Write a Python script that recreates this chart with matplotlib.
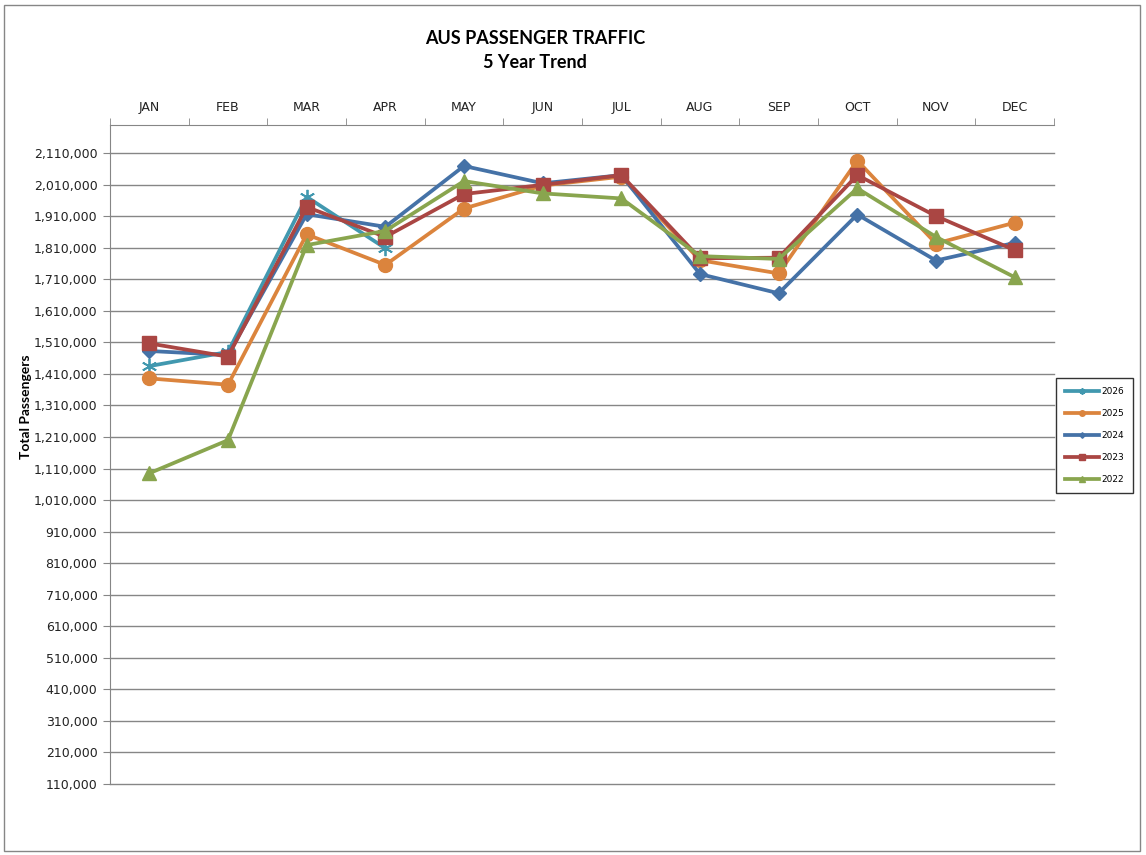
import numpy as np
import matplotlib
matplotlib.use('Agg')
import matplotlib.pyplot as plt
from matplotlib.patches import Rectangle
from matplotlib.ticker import FuncFormatter

# monthly passenger totals
months = ['JAN', 'FEB', 'MAR', 'APR', 'MAY', 'JUN', 'JUL', 'AUG', 'SEP', 'OCT', 'NOV', 'DEC']
y2026 = [1435000, 1480000, 1972000, 1809000]
y2025 = [1396000, 1376000, 1853000, 1756000, 1935000, 2008000, 2036000, 1771000, 1729000, 2087000, 1824000, 1890000]
y2024 = [1483000, 1470000, 1917000, 1877000, 2070000, 2015000, 2041000, 1727000, 1666000, 1916000, 1770000, 1826000]
y2023 = [1507000, 1465000, 1940000, 1845000, 1981000, 2010000, 2041000, 1777000, 1779000, 2041000, 1911000, 1803000]
y2022 = [1095000, 1200000, 1819000, 1864000, 2022000, 1983000, 1967000, 1784000, 1775000, 1999000, 1845000, 1717000]

fig = plt.figure(figsize=(11.46, 8.55), dpi=100)
ax = fig.add_axes([110 / 1146, 71.3 / 855, 944 / 1146, 658.7 / 855])

# outer chart border
fig.patches.append(Rectangle((4 / 1146, 4 / 855), 1136 / 1146, 846 / 855, transform=fig.transFigure,
                             fill=False, edgecolor='#868686', linewidth=1))

x = np.arange(len(months))
lw = 2.7
ax.plot(x[:len(y2026)], y2026, color='#4198AF', lw=lw, marker=(6, 2, 0), ms=11, mew=1.3, label='2026', zorder=3)
ax.plot(x, y2025, color='#DB843D', lw=lw, marker='o', ms=10, label='2025', zorder=4)
ax.plot(x, y2024, color='#4572A7', lw=lw, marker='D', ms=7, label='2024', zorder=5)
ax.plot(x, y2023, color='#AA4643', lw=lw, marker='s', ms=10, label='2023', zorder=6)
ax.plot(x, y2022, color='#89A54E', lw=lw, marker='^', ms=10, label='2022', zorder=7)

ax.set_xlim(-0.5, len(months) - 0.5)
ax.set_ylim(110000, 2200000)

# category axis on top, tick marks between categories
ax.xaxis.tick_top()
ax.set_xticks(x)
ax.set_xticklabels(months, fontsize=9, color='#222222')
ax.set_xticks(np.arange(-0.5, len(months)), minor=True)
ax.tick_params(axis='x', which='major', length=0, pad=8)
ax.tick_params(axis='x', which='minor', length=5, color='#868686', top=True, bottom=False)

ax.set_yticks(np.arange(110000, 2200000, 100000))
ax.yaxis.set_major_formatter(FuncFormatter(lambda v, p: f'{int(v):,}'))
ax.tick_params(axis='y', length=5, color='#868686', labelsize=9, labelcolor='#222222', pad=4)
ax.grid(axis='y', color='#868686', lw=1)
for gl in ax.get_ygridlines():
    gl.set_clip_on(False)
ax.set_axisbelow(True)

for s in ['right', 'bottom']:
    ax.spines[s].set_visible(False)
for s in ['left', 'top']:
    ax.spines[s].set_color('#868686')

ax.set_ylabel('Total Passengers', fontsize=10, fontweight='bold', family='Lato')
ax.yaxis.set_label_coords(-0.083, 0.572)

fig.text(535 / 1146, 1 - 38 / 855, 'AUS PASSENGER TRAFFIC', ha='center', va='center',
         fontsize=13, fontweight='bold', family='Lato')
fig.text(535 / 1146, 1 - 63 / 855, '5 Year Trend', ha='center', va='center',
         fontsize=13, fontweight='bold', family='Lato')

leg = fig.legend(loc='upper left', bbox_to_anchor=(1056 / 1146, 1 - 378 / 855), fontsize=6.5,
                 frameon=True, fancybox=False, edgecolor='black', markerscale=0.4,
                 handlelength=3.8, labelspacing=1.45, borderpad=1.0, handletextpad=0.2,
                 borderaxespad=0)
leg.get_frame().set_linewidth(1)

fig.savefig('out.png', dpi=100)
